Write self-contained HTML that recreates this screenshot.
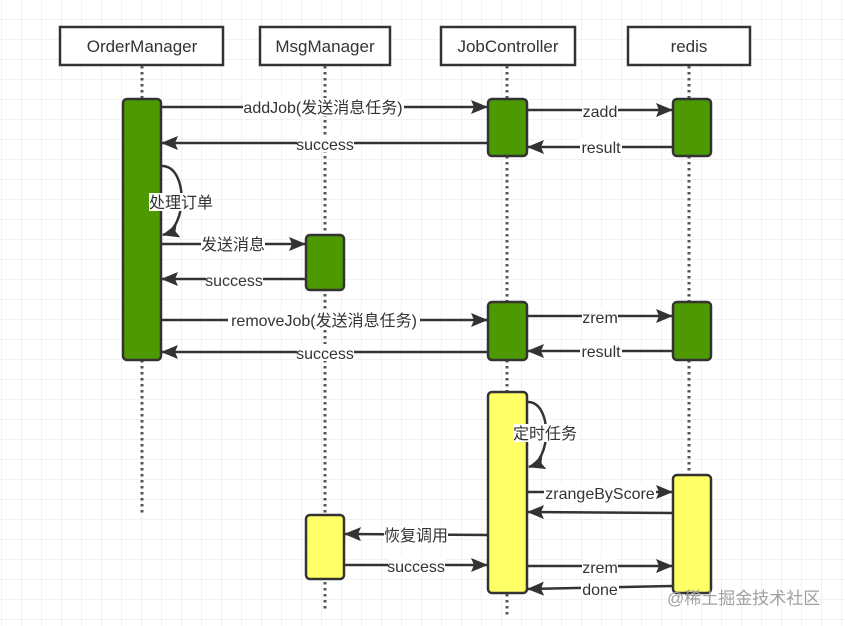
<!DOCTYPE html>
<html><head><meta charset="utf-8"><style>
html,body{margin:0;padding:0;background:#fff}
svg{display:block}
text{font-family:"Liberation Sans","Noto Sans CJK SC",sans-serif;font-size:16px;fill:#333}
</style></head><body>
<svg width="845" height="626" viewBox="0 0 845 626" xmlns="http://www.w3.org/2000/svg">
<defs>
<pattern id="g" width="20" height="20" patternUnits="userSpaceOnUse" x="2" y="0">
<path d="M20 0V20M0 20H20" stroke="#e4e4e4" stroke-width="1" fill="none"/>
</pattern>
<marker id="a" markerWidth="18" markerHeight="14" refX="16" refY="7" orient="auto" markerUnits="userSpaceOnUse">
<path d="M0 0L17 7L0 14L3 7Z" fill="#333"/>
</marker>
</defs>
<rect width="845" height="626" fill="url(#g)"/>
<g fill="#fff" stroke="#333" stroke-width="2.5">
<rect x="60" y="27" width="163" height="38"/>
<rect x="260" y="27" width="130" height="38"/>
<rect x="441" y="27" width="134" height="38"/>
<rect x="628" y="27" width="122" height="38"/>
</g>
<g text-anchor="middle">
<text x="142" y="52" style="font-size:17px">OrderManager</text>
<text x="325" y="52" style="font-size:17px">MsgManager</text>
<text x="508" y="52" style="font-size:17px">JobController</text>
<text x="689" y="52" style="font-size:17px">redis</text>
</g>
<g stroke="#555" stroke-width="3" stroke-dasharray="2.5,3.5">
<line x1="142" y1="66" x2="142" y2="515"/>
<line x1="325" y1="66" x2="325" y2="610"/>
<line x1="507" y1="66" x2="507" y2="615"/>
<line x1="689" y1="66" x2="689" y2="475"/>
</g>
<g stroke="#333" stroke-width="2.5">
<rect x="123" y="99" width="38" height="261" rx="4" fill="#4d9900"/>
<rect x="488" y="99" width="39" height="57" rx="4" fill="#4d9900"/>
<rect x="673" y="99" width="38" height="57" rx="4" fill="#4d9900"/>
<rect x="306" y="235" width="38" height="55" rx="4" fill="#4d9900"/>
<rect x="488" y="302" width="39" height="58" rx="4" fill="#4d9900"/>
<rect x="673" y="302" width="38" height="58" rx="4" fill="#4d9900"/>
<rect x="488" y="392" width="39" height="201" rx="4" fill="#ffff66"/>
<rect x="673" y="475" width="38" height="118" rx="4" fill="#ffff66"/>
<rect x="306" y="515" width="38" height="64" rx="4" fill="#ffff66"/>
</g>
<g stroke="#333" stroke-width="2.5" fill="none" marker-end="url(#a)">
<line x1="161" y1="107" x2="487" y2="107"/>
<line x1="488" y1="143" x2="162" y2="143"/>
<path d="M162 166C188 166 188 228 163 235"/>
<line x1="161" y1="244" x2="305" y2="244"/>
<line x1="306" y1="279" x2="162" y2="279"/>
<line x1="161" y1="320" x2="487" y2="320"/>
<line x1="488" y1="352" x2="162" y2="352"/>
<line x1="527" y1="110" x2="672" y2="110"/>
<line x1="673" y1="147" x2="528" y2="147"/>
<line x1="527" y1="316" x2="672" y2="316"/>
<line x1="673" y1="351" x2="528" y2="351"/>
<path d="M528 402C552 402 552 460 529 467"/>
<line x1="527" y1="492" x2="672" y2="492"/>
<line x1="673" y1="513" x2="528" y2="512"/>
<line x1="488" y1="535" x2="345" y2="534"/>
<line x1="344" y1="565" x2="487" y2="565"/>
<line x1="527" y1="566" x2="672" y2="566"/>
<line x1="673" y1="586" x2="528" y2="589"/>
</g>
<g text-anchor="middle">
<rect x="243" y="98" width="161" height="18" fill="#fff"/><text x="323" y="113">addJob(发送消息任务)</text>
<rect x="297" y="135" width="57" height="17" fill="#fff"/><text x="325" y="150">success</text>
<rect x="149" y="193" width="64" height="18" fill="#fff"/><text x="181" y="208">处理订单</text>
<rect x="201" y="235" width="64" height="18" fill="#fff"/><text x="233" y="250">发送消息</text>
<rect x="206" y="271" width="57" height="17" fill="#fff"/><text x="234" y="286">success</text>
<rect x="228" y="311" width="192" height="18" fill="#fff"/><text x="324" y="326">removeJob(发送消息任务)</text>
<rect x="297" y="344" width="57" height="17" fill="#fff"/><text x="325" y="359">success</text>
<rect x="582" y="102" width="36" height="17" fill="#fff"/><text x="600" y="117">zadd</text>
<rect x="580" y="139" width="42" height="17" fill="#fff"/><text x="601" y="153">result</text>
<rect x="582" y="308" width="36" height="17" fill="#fff"/><text x="600" y="323">zrem</text>
<rect x="580" y="343" width="42" height="17" fill="#fff"/><text x="601" y="357">result</text>
<rect x="513" y="424" width="64" height="18" fill="#fff"/><text x="545" y="439">定时任务</text>
<rect x="544" y="484" width="112" height="17" fill="#fff"/><text x="600" y="499">zrangeByScore</text>
<rect x="384" y="526" width="64" height="18" fill="#fff"/><text x="416" y="541">恢复调用</text>
<rect x="388" y="557" width="57" height="17" fill="#fff"/><text x="416" y="572">success</text>
<rect x="582" y="558" width="36" height="17" fill="#fff"/><text x="600" y="573">zrem</text>
<rect x="581" y="580" width="38" height="17" fill="#fff"/><text x="600" y="595">done</text>
</g>
<text x="667" y="604" style="font-size:17px;fill:#a0a0a0">@稀土掘金技术社区</text>
</svg>
</body></html>
